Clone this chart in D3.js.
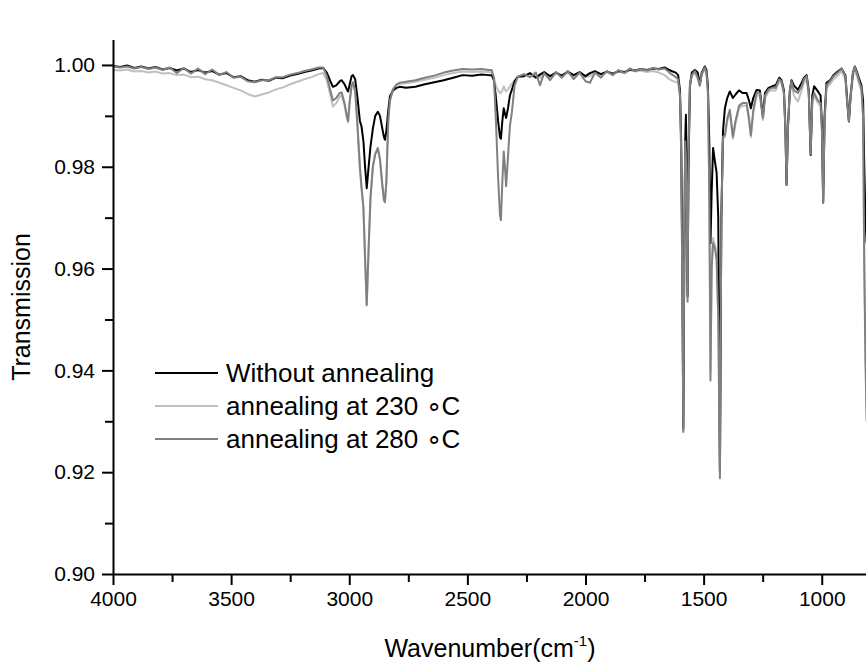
<!DOCTYPE html>
<html>
<head>
<meta charset="utf-8">
<script src="https://cdn.jsdelivr.net/npm/d3@7"></script>
<style>
  body { margin: 0; background: #fff; }
  text { font-family: "Liberation Sans", Arial, sans-serif; fill: #000; }
</style>
</head>
<body>
<svg width="866" height="668"></svg>
<script>
// wavenumber grid (cm-1), shared by all three spectra
const wavenumbers = [
  // baseline 4000-3130
  4000, 3970, 3940, 3910, 3880, 3850, 3820, 3790, 3760, 3730,
  3700, 3670, 3640, 3610, 3580, 3550, 3520, 3490, 3460, 3430,
  3400, 3370, 3340, 3310, 3280, 3250, 3220, 3190, 3160, 3130,
  // C-H stretch
  3110, 3095, 3080, 3069, 3055, 3040, 3032, 3020, 3010, 3005,
  2998, 2990, 2984, 2975, 2965, 2955, 2948, 2940, 2933, 2926,
  2918, 2910, 2900, 2890, 2879, 2870, 2860, 2853, 2849, 2843,
  2835, 2828, 2815, 2800, 2786,
  2760, 2720, 2680, 2640, 2600, 2560, 2520, 2480, 2440, 2410,
  // CO2
  2397, 2388, 2380, 2370, 2362, 2358, 2352, 2346, 2341, 2336,
  2328, 2320, 2312, 2300, 2286,
  2260, 2235, 2210, 2193, 2175, 2150, 2125, 2100, 2075, 2050,
  2025, 2000, 1981, 1960, 1935, 1910, 1885, 1860, 1835, 1812,
  1790, 1765, 1740, 1715, 1690, 1665, 1645, 1630, 1618,
  1608, 1600, 1595, 1590, 1586, 1582, 1578, 1575, 1571, 1568,
  1564, 1558, 1550, 1537, 1525, 1516, 1508, 1495, 1488,
  1482, 1476, 1471, 1466, 1460, 1452, 1445, 1438, 1431, 1425,
  1418, 1410, 1400, 1389, 1376, 1365, 1350, 1335, 1318, 1308,
  1300, 1290, 1276, 1262, 1249, 1240, 1225, 1210, 1195, 1180,
  1170, 1160, 1154, 1149, 1143, 1135, 1128, 1118, 1101, 1085,
  1075, 1064, 1055, 1047, 1040, 1032, 1016, 1005, 999, 994,
  988, 980, 965, 950, 930, 916, 900, 892, 885, 878,
  868, 860, 850, 840, 832, 825, 820, 815, 810
];

const withoutAnnealing = [
  0.9998, 0.9996, 0.9999, 0.9994, 0.9997, 0.9993, 0.9996, 0.9991, 0.9994, 0.9989,
  0.9993, 0.9986, 0.9990, 0.9985, 0.9988, 0.9981, 0.9984, 0.9976, 0.9978, 0.9970,
  0.9967, 0.9971, 0.9969, 0.9975, 0.9974, 0.9979, 0.9982, 0.9986, 0.9989, 0.9993,
  0.9994, 0.9985, 0.9968, 0.9957, 0.9960, 0.9968, 0.9970, 0.9962, 0.9952, 0.9948,
  0.9962, 0.9978, 0.9980, 0.9972, 0.9935, 0.9890, 0.9879, 0.9850, 0.9800, 0.9758,
  0.9800, 0.9840, 0.9875, 0.9900, 0.9908, 0.9900, 0.9875, 0.9858, 0.9853, 0.9870,
  0.9910, 0.9938, 0.9950, 0.9955, 0.9957,
  0.9955, 0.9957, 0.9962, 0.9966, 0.9970, 0.9975, 0.9980, 0.9979, 0.9981, 0.9980,
  0.9980, 0.9970, 0.9940, 0.9890, 0.9858, 0.9855, 0.9890, 0.9915, 0.9905, 0.9896,
  0.9915, 0.9940, 0.9951, 0.9968, 0.9977,
  0.9978, 0.9984, 0.9975, 0.9981, 0.9986, 0.9978, 0.9985, 0.9979, 0.9987, 0.9980,
  0.9986, 0.9978, 0.9984, 0.9988, 0.9982, 0.9987, 0.9983, 0.9988, 0.9986, 0.9991,
  0.9989, 0.9992, 0.9990, 0.9993, 0.9992, 0.9995, 0.9990, 0.9987, 0.9985,
  0.9980, 0.9950, 0.9850, 0.9600, 0.9285, 0.9600, 0.9850, 0.9902, 0.9800, 0.9545,
  0.9800, 0.9960, 0.9985, 0.9990, 0.9985, 0.9962, 0.9985, 0.9997, 0.9990,
  0.9960, 0.9850, 0.9650, 0.9750, 0.9837, 0.9810, 0.9788, 0.9700, 0.9200, 0.9700,
  0.9870, 0.9915, 0.9935, 0.9948, 0.9935, 0.9942, 0.9950, 0.9945, 0.9945, 0.9930,
  0.9915, 0.9935, 0.9951, 0.9950, 0.9900, 0.9945, 0.9955, 0.9958, 0.9960, 0.9975,
  0.9970, 0.9950, 0.9880, 0.9764, 0.9880, 0.9950, 0.9970, 0.9960, 0.9951, 0.9965,
  0.9975, 0.9980, 0.9950, 0.9823, 0.9940, 0.9958, 0.9948, 0.9940, 0.9880, 0.9730,
  0.9900, 0.9965, 0.9970, 0.9980, 0.9988, 0.9993, 0.9980, 0.9930, 0.9889, 0.9940,
  0.9985, 0.9997, 0.9985, 0.9970, 0.9960, 0.9930, 0.9800, 0.9700, 0.9650
];

const annealing230 = [
  0.9990, 0.9989, 0.9991, 0.9987, 0.9988, 0.9985, 0.9987, 0.9983, 0.9984, 0.9980,
  0.9981, 0.9976, 0.9977, 0.9972, 0.9970, 0.9965, 0.9960, 0.9955, 0.9950, 0.9943,
  0.9938, 0.9942, 0.9946, 0.9952, 0.9956, 0.9962, 0.9967, 0.9972, 0.9976, 0.9982,
  0.9984, 0.9970, 0.9940, 0.9918, 0.9925, 0.9938, 0.9940, 0.9920, 0.9895, 0.9887,
  0.9925, 0.9958, 0.9963, 0.9947, 0.9878, 0.9795, 0.9757, 0.9718, 0.9618, 0.9530,
  0.9640, 0.9740, 0.9800, 0.9825, 0.9835, 0.9813, 0.9763, 0.9733, 0.9730, 0.9768,
  0.9888, 0.9928, 0.9950, 0.9960, 0.9963,
  0.9964, 0.9967, 0.9971, 0.9975, 0.9980, 0.9984, 0.9987, 0.9986, 0.9987, 0.9986,
  0.9985, 0.9978, 0.9960, 0.9950, 0.9945, 0.9945, 0.9950, 0.9958, 0.9952, 0.9948,
  0.9952, 0.9958, 0.9963, 0.9970, 0.9977,
  0.9980, 0.9982, 0.9979, 0.9975, 0.9983, 0.9976, 0.9984, 0.9978, 0.9985, 0.9978,
  0.9984, 0.9976, 0.9978, 0.9985, 0.9980, 0.9986, 0.9982, 0.9987, 0.9984, 0.9990,
  0.9987, 0.9989, 0.9986, 0.9988, 0.9985, 0.9980, 0.9972, 0.9968, 0.9967,
  0.9965, 0.9935, 0.9830, 0.9560, 0.9290, 0.9640, 0.9840, 0.9815, 0.9700, 0.9550,
  0.9815, 0.9955, 0.9978, 0.9985, 0.9972, 0.9958, 0.9980, 0.9992, 0.9982,
  0.9945, 0.9760, 0.9400, 0.9610, 0.9660, 0.9645, 0.9625, 0.9510, 0.9200, 0.9700,
  0.9855, 0.9858, 0.9890, 0.9905, 0.9855, 0.9885, 0.9915, 0.9920, 0.9920, 0.9890,
  0.9858, 0.9905, 0.9940, 0.9940, 0.9892, 0.9935, 0.9948, 0.9950, 0.9950, 0.9968,
  0.9963, 0.9940, 0.9870, 0.9770, 0.9875, 0.9945, 0.9962, 0.9940, 0.9928, 0.9950,
  0.9966, 0.9972, 0.9940, 0.9830, 0.9925, 0.9940, 0.9925, 0.9920, 0.9868, 0.9735,
  0.9885, 0.9955, 0.9962, 0.9972, 0.9980, 0.9988, 0.9972, 0.9920, 0.9889, 0.9932,
  0.9978, 0.9990, 0.9976, 0.9960, 0.9950, 0.9895, 0.9620, 0.9450, 0.9320
];

const annealing280 = [
  0.9997, 0.9995, 0.9997, 0.9993, 0.9996, 0.9992, 0.9995, 0.9990, 0.9995, 0.9984,
  0.9994, 0.9983, 0.9993, 0.9982, 0.9991, 0.9980, 0.9986, 0.9975, 0.9977, 0.9968,
  0.9966, 0.9970, 0.9970, 0.9976, 0.9976, 0.9981, 0.9984, 0.9988, 0.9991, 0.9995,
  0.9995, 0.9978, 0.9950, 0.9930, 0.9935, 0.9945, 0.9946, 0.9925, 0.9900, 0.9890,
  0.9930, 0.9960, 0.9966, 0.9950, 0.9880, 0.9800, 0.9760, 0.9720, 0.9620, 0.9528,
  0.9640, 0.9740, 0.9800, 0.9825, 0.9837, 0.9815, 0.9765, 0.9735, 0.9731, 0.9770,
  0.9890, 0.9930, 0.9952, 0.9962, 0.9965,
  0.9967, 0.9970, 0.9975, 0.9979, 0.9985, 0.9989, 0.9992, 0.9991, 0.9992, 0.9990,
  0.9990, 0.9975, 0.9900, 0.9780, 0.9705, 0.9695, 0.9770, 0.9830, 0.9800, 0.9762,
  0.9820, 0.9880, 0.9906, 0.9960, 0.9977,
  0.9982, 0.9976, 0.9985, 0.9960, 0.9984, 0.9970, 0.9986, 0.9975, 0.9988, 0.9972,
  0.9985, 0.9968, 0.9965, 0.9985, 0.9975, 0.9988, 0.9980, 0.9990, 0.9984, 0.9993,
  0.9988, 0.9992, 0.9989, 0.9994, 0.9991, 0.9993, 0.9985, 0.9980, 0.9976,
  0.9972, 0.9940, 0.9830, 0.9550, 0.9279, 0.9650, 0.9850, 0.9820, 0.9700, 0.9535,
  0.9820, 0.9960, 0.9980, 0.9988, 0.9975, 0.9960, 0.9983, 0.9995, 0.9985,
  0.9950, 0.9750, 0.9380, 0.9600, 0.9650, 0.9640, 0.9617, 0.9500, 0.9188, 0.9700,
  0.9859, 0.9862, 0.9895, 0.9912, 0.9859, 0.9890, 0.9920, 0.9925, 0.9925, 0.9895,
  0.9862, 0.9910, 0.9945, 0.9945, 0.9896, 0.9940, 0.9952, 0.9955, 0.9955, 0.9972,
  0.9968, 0.9945, 0.9875, 0.9764, 0.9880, 0.9950, 0.9968, 0.9950, 0.9945, 0.9958,
  0.9972, 0.9978, 0.9945, 0.9825, 0.9930, 0.9945, 0.9930, 0.9925, 0.9870, 0.9729,
  0.9890, 0.9960, 0.9968, 0.9978, 0.9986, 0.9993, 0.9978, 0.9925, 0.9889, 0.9938,
  0.9985, 0.9996, 0.9982, 0.9965, 0.9955, 0.9900, 0.9600, 0.9417, 0.9300
];

const seriesNames = ["Without annealing", "annealing at 230 \u2218C", "annealing at 280 \u2218C"];
const seriesColors = ["#000000", "#c0c0c0", "#808080"];
const xTicks = [4000, 3500, 3000, 2500, 2000, 1500, 1000];
const yTicks = [0.90, 0.92, 0.94, 0.96, 0.98, 1.00];

const svg = d3.select("svg");
const width = +svg.attr("width");
const height = +svg.attr("height");

const x = d3.scaleLinear().domain([4000, 800]).range([113, 869]);
const y = d3.scaleLinear().domain([0.90, 1.0049]).range([574, 40]);

const series = [withoutAnnealing, annealing230, annealing280].map((vals, i) => ({
  name: seriesNames[i],
  color: seriesColors[i],
  points: wavenumbers.map((w, j) => [w, vals[j]])
}));

svg.append("clipPath").attr("id", "plot")
  .append("rect").attr("x", 113).attr("y", 0).attr("width", width - 113).attr("height", 574);

const line = d3.line().x(d => x(d[0])).y(d => y(d[1]));

// draw order: 230, black, 280 on top
[1, 0, 2].forEach(i => {
  svg.append("path")
    .datum(series[i].points)
    .attr("clip-path", "url(#plot)")
    .attr("fill", "none")
    .attr("stroke", series[i].color)
    .attr("stroke-width", 2)
    .attr("stroke-linejoin", "round")
    .attr("d", line);
});

// axes
const xMinor = d3.range(3750, 800, -500);
svg.append("g")
  .attr("transform", `translate(0,574)`)
  .call(d3.axisBottom(x).tickValues(xMinor).tickSize(8).tickFormat(""))
  .call(g => g.select(".domain").remove());
svg.append("g")
  .attr("class", "xaxis")
  .attr("transform", `translate(0,574)`)
  .call(d3.axisBottom(x).tickValues(xTicks).tickSize(11).tickPadding(6).tickFormat(d3.format("d")));

const yMinor = [0.91, 0.93, 0.95, 0.97, 0.99];
svg.append("g")
  .attr("transform", `translate(113,0)`)
  .call(d3.axisLeft(y).tickValues(yMinor).tickSize(8).tickFormat(""))
  .call(g => g.select(".domain").remove());
svg.append("g")
  .attr("class", "yaxis")
  .attr("transform", `translate(113,0)`)
  .call(d3.axisLeft(y).tickValues(yTicks).tickSize(11).tickPadding(7).tickFormat(d3.format(".2f")));

svg.selectAll(".domain").attr("stroke-width", 2).attr("d", function() {
  return d3.select(this).attr("d");
});
svg.select(".xaxis .domain").attr("d", `M113,0.5H${width}`);
svg.select(".yaxis .domain").attr("d", `M0.5,40V574`);
svg.selectAll(".tick line").attr("stroke-width", 2);
svg.selectAll(".tick text").attr("font-size", 21).attr("fill", "#000");

// axis titles
svg.append("text")
  .attr("transform", "translate(30,307) rotate(-90)")
  .attr("text-anchor", "middle")
  .attr("font-size", 25)
  .text("Transmission");

const xt = svg.append("text")
  .attr("x", 490).attr("y", 657)
  .attr("text-anchor", "middle")
  .attr("font-size", 25);
xt.append("tspan").text("Wavenumber(cm");
xt.append("tspan").attr("font-size", 15).attr("dy", -11).text("-1");
xt.append("tspan").attr("dy", 11).text(")");

// legend
const legendY = [373, 406, 439];
series.forEach((s, i) => {
  svg.append("line")
    .attr("x1", 155).attr("x2", 218)
    .attr("y1", legendY[i]).attr("y2", legendY[i])
    .attr("stroke", s.color).attr("stroke-width", 2);
  svg.append("text")
    .attr("x", 226).attr("y", legendY[i] + 9)
    .attr("font-size", 26)
    .text(s.name);
});
</script>
</body>
</html>
